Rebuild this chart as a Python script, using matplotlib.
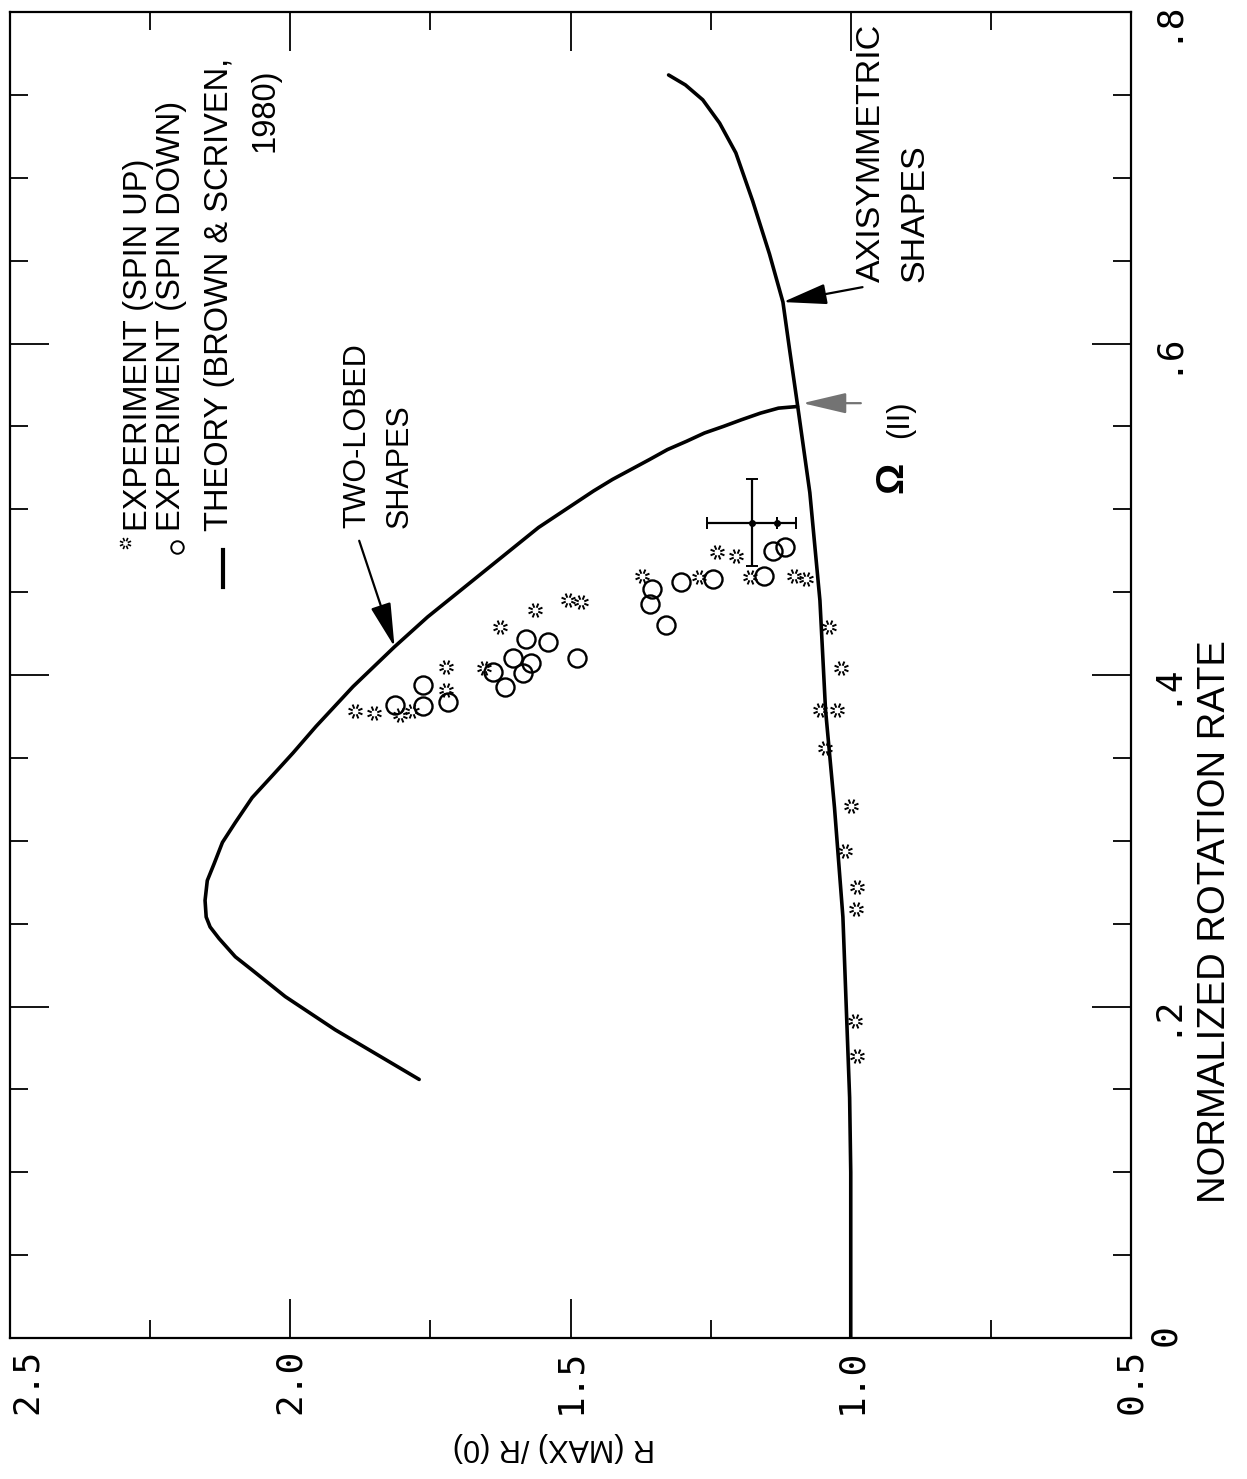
import numpy as np
import matplotlib
matplotlib.use("Agg")
import matplotlib.pyplot as plt
from matplotlib.path import Path

# theory (Brown & Scriven 1980)
axi_ratio = [1.000, 1.000, 1.002, 1.014, 1.029, 1.045, 1.055, 1.073, 1.095, 1.109, 1.121, 1.145,
             1.175, 1.205, 1.234, 1.264, 1.295, 1.325]
axi_rate = [0.000, 0.100, 0.145, 0.254, 0.320, 0.379, 0.445, 0.510, 0.563, 0.596, 0.625, 0.654,
            0.686, 0.715, 0.733, 0.747, 0.756, 0.762]

lobe_ratio = [1.770, 1.830, 1.920, 2.009, 2.068, 2.098, 2.127, 2.143, 2.150, 2.152, 2.148, 2.136,
              2.121, 2.098, 2.068, 2.030, 1.995, 1.954, 1.888, 1.814, 1.755, 1.689, 1.623, 1.557,
              1.459, 1.425, 1.359, 1.327, 1.293, 1.261, 1.227, 1.195, 1.161, 1.129, 1.095]
lobe_rate = [0.156, 0.168, 0.186, 0.206, 0.222, 0.230, 0.241, 0.248, 0.254, 0.264, 0.276, 0.286,
             0.299, 0.311, 0.326, 0.340, 0.353, 0.369, 0.393, 0.417, 0.435, 0.453, 0.471, 0.489,
             0.511, 0.518, 0.530, 0.536, 0.541, 0.546, 0.550, 0.554, 0.558, 0.561, 0.562]

# experiment, spin up
up_ratio = [1.884, 1.850, 1.805, 1.782, 1.723, 1.723, 1.655, 1.625, 1.563, 1.504, 1.482, 1.373, 1.271,
            1.239, 1.205, 1.179, 1.102, 1.080, 1.038, 1.018, 1.054, 1.025, 1.046, 1.000, 1.011, 0.989,
            0.991, 0.993, 0.988]
up_rate = [0.378, 0.377, 0.376, 0.378, 0.405, 0.391, 0.404, 0.429, 0.439, 0.445, 0.444, 0.460, 0.459,
           0.474, 0.472, 0.459, 0.460, 0.458, 0.429, 0.404, 0.379, 0.379, 0.356, 0.321, 0.294, 0.272,
           0.259, 0.191, 0.170]

# experiment, spin down
down_ratio = [1.813, 1.764, 1.763, 1.718, 1.639, 1.616, 1.602, 1.584, 1.571, 1.579, 1.541, 1.489,
              1.355, 1.359, 1.329, 1.302, 1.246, 1.154, 1.138, 1.118]
down_rate = [0.382, 0.394, 0.381, 0.384, 0.402, 0.393, 0.410, 0.401, 0.407, 0.422, 0.420, 0.410,
             0.452, 0.443, 0.430, 0.456, 0.458, 0.460, 0.475, 0.477]

# typical error bar
err_ratio = [1.177, 1.132]
err_rate = [0.492, 0.492]
err_dratio = [0.080, 0.0]
err_drate = [0.026, 0.0]

x_major = [2.5, 2.0, 1.5, 1.0, 0.5]
x_labels = ["2.5", "2.0", "1.5", "1.0", "0.5"]
x_minor = [2.25, 1.75, 1.25, 0.75]
y_major = [0.0, 0.2, 0.4, 0.6, 0.8]
y_labels = ["0", ".2", ".4", ".6", ".8"]
y_minor = [0.05, 0.1, 0.15, 0.25, 0.3, 0.35, 0.45, 0.5, 0.55, 0.65, 0.7, 0.75]

plt.rcParams['font.family'] = ['Liberation Sans', 'DejaVu Sans']

fig = plt.figure(figsize=(12.47, 14.79), dpi=100)
ax = fig.add_axes([10 / 1247, 141 / 1479, 1121 / 1247, 1326 / 1479])

# star-like marker of 8 short dashes
ang = np.deg2rad(np.arange(0, 360, 45) + 22.5)
verts, codes = [], []
for a in ang:
    verts += [(0.4 * np.cos(a), 0.4 * np.sin(a)), (np.cos(a), np.sin(a))]
    codes += [Path.MOVETO, Path.LINETO]
star = Path(verts, codes)

ax.plot(axi_ratio, axi_rate, color='k', lw=2.6, solid_capstyle='round', solid_joinstyle='round')
ax.plot(lobe_ratio, lobe_rate, color='k', lw=2.6, solid_capstyle='round', solid_joinstyle='round')
ax.plot(up_ratio, up_rate, ls='none', marker=star, ms=10, mew=1.4, mec='k', mfc='none')
ax.plot(down_ratio, down_rate, ls='none', marker='o', ms=13, mew=1.7, mec='k', mfc='none')
ax.errorbar(err_ratio, err_rate, xerr=err_dratio, yerr=err_drate, fmt='o', ms=4, color='k',
            elinewidth=1.6, capsize=4, capthick=1.4)

ax.set_xlim(2.5, 0.5)
ax.set_ylim(0, 0.8)
ax.set_xticks(x_major)
ax.set_xticklabels(x_labels)
ax.set_xticks(x_minor, minor=True)
ax.set_yticks(y_major)
ax.set_yticklabels(y_labels)
ax.set_yticks(y_minor, minor=True)
ax.tick_params(which='both', direction='in', top=True, right=True, left=True, bottom=True,
               labelleft=False, labelright=True, width=1.3, labelsize=26,
               labelfontfamily='DejaVu Sans Mono', labelrotation=90)
ax.tick_params(which='major', length=28)
ax.tick_params(which='minor', length=13)
ax.tick_params(axis='x', pad=8)
ax.tick_params(axis='y', pad=12)
ax.get_xticklabels()[0].set_ha('left')
for s in ax.spines.values():
    s.set_linewidth(1.6)

ax.set_xlabel("R (MAX) /R (0)", rotation=180, fontsize=22, va='center', ha='center')
ax.xaxis.set_label_coords(0.485, -0.082)
ax.yaxis.set_label_position('right')
ax.set_ylabel("NORMALIZED ROTATION RATE", rotation=90, fontsize=27.5, va='center', ha='center')
ax.yaxis.set_label_coords(1.075, 0.314)

# legend written along the rotated axis
tk = dict(rotation=90, ha='center', va='bottom', fontsize=23.5)
ax.text(2.270, 0.487, "EXPERIMENT (SPIN UP)", **tk)
ax.text(2.211, 0.487, "EXPERIMENT (SPIN DOWN)", **tk)
ax.text(2.127, 0.487, "THEORY (BROWN & SCRIVEN,", **tk)
ax.text(2.045, 0.766, "1980)", rotation=90, ha='center', va='top', fontsize=23.5)
ax.plot([0.1026], [0.5995], transform=ax.transAxes, marker=star, ms=8, mew=1.2, mec='k', ls='none')
ax.plot([0.149], [0.5965], transform=ax.transAxes, marker='o', ms=9, mew=1.4, mec='k', mfc='none', ls='none')
ax.plot([0.190, 0.190], [0.594, 0.566], transform=ax.transAxes, color='k', lw=3)

# curve labels
tl = dict(rotation=90, ha='center', va='bottom', fontsize=22)
ax.text(1.880, 0.4885, "TWO-LOBED", **tl)
ax.text(1.804, 0.4885, "SHAPES", **tl)
ta = dict(tl, fontsize=24.5)
ax.text(0.9625, 0.637, "AXISYMMETRIC", **ta)
ax.text(0.886, 0.637, "SHAPES", **ta)
ax.text(0.925, 0.510, "\u03a9", rotation=90, ha='center', va='bottom', fontsize=28, fontweight='bold')
ax.text(0.912, 0.543, "(II)", rotation=90, ha='center', va='bottom', fontsize=22)

arw = dict(arrowstyle='-|>,head_length=1.7,head_width=0.4', mutation_scale=16, lw=1.6,
           color='k', shrinkA=0, shrinkB=0)
ax.annotate("", xy=(1.814, 0.417), xytext=(1.877, 0.481), arrowprops=arw)
ax.annotate("", xy=(1.121, 0.625), xytext=(0.979, 0.634), arrowprops=arw)
arw_g = dict(arw, color='0.45')
ax.annotate("", xy=(1.086, 0.564), xytext=(0.982, 0.564), arrowprops=arw_g)

fig.savefig("out.png", dpi=100)
